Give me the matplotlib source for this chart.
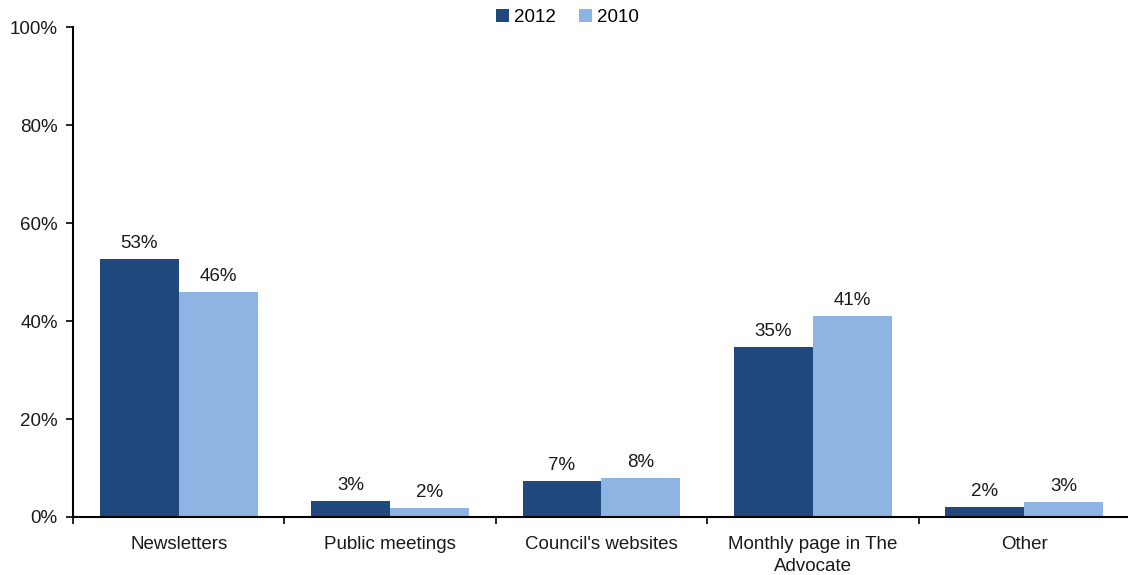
import numpy as np
import matplotlib.pyplot as plt

plt.rcParams['font.family'] = ['Liberation Sans', 'DejaVu Sans']

categories = ["Newsletters", "Public meetings", "Council's websites",
              "Monthly page in The\nAdvocate", "Other"]
years = ["2012", "2010"]
values_2012 = [52.7, 3.3, 7.3, 34.7, 2.0]
values_2010 = [45.9, 1.9, 8.0, 41.0, 3.1]
colors = ["#1F497D", "#8EB4E3"]

fig = plt.figure(figsize=(11.28, 5.75), dpi=100)
ax = fig.add_axes([0.0647, 0.1009, 0.937, 0.852])

x = np.arange(len(categories))
w = 0.373
b1 = ax.bar(x - w / 2, values_2012, w, color=colors[0], label=years[0])
b2 = ax.bar(x + w / 2, values_2010, w, color=colors[1], label=years[1])

for bars, vals in ((b1, values_2012), (b2, values_2010)):
    for rect, v in zip(bars, vals):
        ax.annotate(f"{v:.0f}%", (rect.get_x() + rect.get_width() / 2, v),
                    xytext=(0, 5), textcoords="offset points",
                    ha="center", va="bottom", fontsize=13.5, color="#1a1a1a")

ax.set_xlim(-0.5, len(categories) - 0.5)
ax.set_ylim(0, 100)
ax.set_yticks(np.arange(0, 101, 20))
ax.set_yticklabels([f"{t}%" for t in range(0, 101, 20)])

# category labels centred, tick marks on the group boundaries
ax.set_xticks(x)
ax.set_xticklabels(categories, linespacing=1.35)
ax.set_xticks(np.arange(-0.5, len(categories)), minor=True)
ax.tick_params(axis="x", which="major", length=0, pad=14, labelsize=13.5,
               labelcolor="#1a1a1a")
ax.tick_params(axis="x", which="minor", length=5, width=1.2, direction="out")
ax.tick_params(axis="y", length=5, width=1.2, direction="out", pad=6,
               labelsize=13.5, labelcolor="#1a1a1a")

for s in ("top", "right"):
    ax.spines[s].set_visible(False)
for s in ("left", "bottom"):
    ax.spines[s].set_linewidth(1.5)

fig.legend(loc="upper center", bbox_to_anchor=(0.503, 1.014), ncol=2,
           frameon=False, fontsize=13.5, handlelength=0.7, handleheight=0.7,
           handletextpad=0.3, columnspacing=1.2)

fig.savefig("out.png", dpi=100)
